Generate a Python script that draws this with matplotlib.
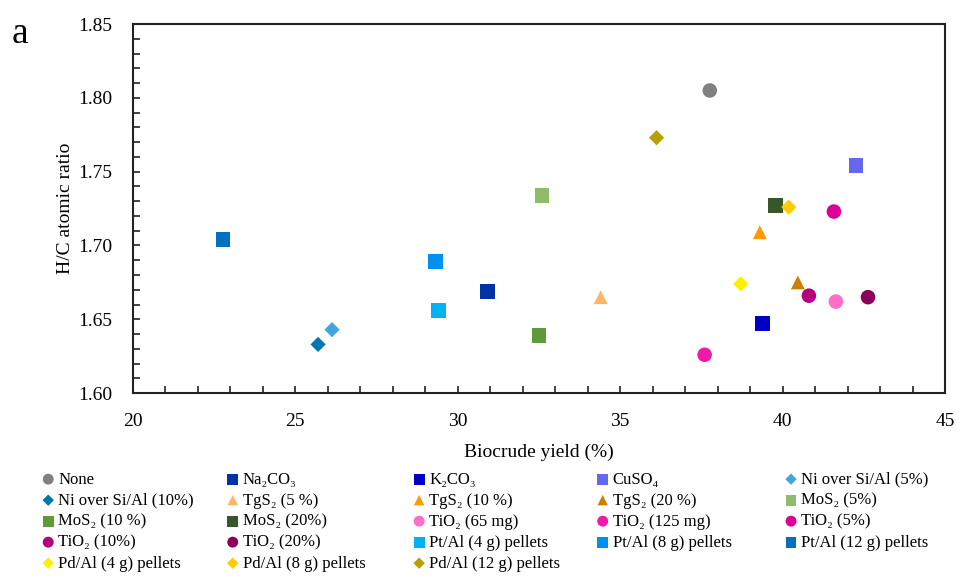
import matplotlib
matplotlib.use("Agg")
import matplotlib.pyplot as plt
from matplotlib.ticker import MultipleLocator

plt.rcParams['font.family'] = ['Liberation Serif', 'DejaVu Serif']

# catalisadores, rendimento (%) e razão H/C
nomes = ['None', 'Na₂CO₃', 'K₂CO₃', 'CuSO₄', 'Ni over Si/Al (5%)',
         'Ni over Si/Al (10%)', 'TgS₂ (5 %)', 'TgS₂ (10 %)', 'TgS₂ (20 %)', 'MoS₂ (5%)',
         'MoS₂ (10 %)', 'MoS₂ (20%)', 'TiO₂ (65 mg)', 'TiO₂ (125 mg)', 'TiO₂ (5%)',
         'TiO₂ (10%)', 'TiO₂ (20%)', 'Pt/Al (4 g) pellets', 'Pt/Al (8 g) pellets', 'Pt/Al (12 g) pellets',
         'Pd/Al (4 g) pellets', 'Pd/Al (8 g) pellets', 'Pd/Al (12 g) pellets']
rendimento = [37.76, 30.91, 39.39, 42.26, 26.13,
              25.70, 34.40, 39.30, 40.47, 32.60,
              32.50, 39.79, 41.64, 37.60, 41.58,
              40.81, 42.63, 29.40, 29.31, 22.77,
              38.71, 40.19, 36.12]
razao_hc = [1.805, 1.669, 1.647, 1.754, 1.643,
            1.633, 1.665, 1.709, 1.675, 1.734,
            1.639, 1.727, 1.662, 1.626, 1.723,
            1.666, 1.665, 1.656, 1.689, 1.704,
            1.674, 1.726, 1.773]
marcadores = ['o', 's', 's', 's', 'D',
              'D', '^', '^', '^', 's',
              's', 's', 'o', 'o', 'o',
              'o', 'o', 's', 's', 's',
              'D', 'D', 'D']
cores = ['#808080', '#0033A6', '#0000C4', '#6468EC', '#42A6D6',
         '#0077AE', '#FFB564', '#FF9A00', '#CC8000', '#8FBC6A',
         '#5E9A3A', '#37562A', '#FF6EC8', '#F01AA8', '#DC0096',
         '#B4007C', '#8A005A', '#00B2F2', '#0090EE', '#0070C2',
         '#FFF000', '#FFCC00', '#B8A000']

fig = plt.figure(figsize=(9.56, 5.79), dpi=100)
ax = fig.add_axes([0.139, 0.321, 0.8495, 0.6375])

tamanhos = {'o': 110, 's': 110, 'D': 60, '^': 100}
handles = []
for i in range(len(nomes)):
    h = ax.scatter(rendimento[i], razao_hc[i], s=tamanhos[marcadores[i]], marker=marcadores[i],
                   color=cores[i], edgecolors='none', label=nomes[i], zorder=3)
    handles.append(h)

ax.set_xlim(20, 45)
ax.set_ylim(1.60, 1.85)
ax.xaxis.set_major_locator(MultipleLocator(5))
ax.xaxis.set_minor_locator(MultipleLocator(1))
ax.yaxis.set_major_locator(MultipleLocator(0.05))
ax.yaxis.set_minor_locator(MultipleLocator(0.01))
ax.yaxis.set_major_formatter(plt.FormatStrFormatter('%.2f'))
ax.tick_params(which='both', direction='in', length=5, width=1.2, labelsize=14, color='#222222')
ax.tick_params(axis='x', pad=14)
ax.tick_params(axis='y', pad=15)
for sp in ax.spines.values():
    sp.set_linewidth(1.5)
    sp.set_color('#222222')

ax.set_xlabel('Biocrude yield (%)', fontsize=14, labelpad=10)
ax.set_ylabel('H/C atomic ratio', fontsize=14, labelpad=3)
fig.text(0.012, 0.925, 'a', fontsize=27)

# uma legenda por coluna, para as colunas ficarem igualmente espaçadas
ncol = 5
x_colunas = [0.033, 0.226, 0.421, 0.613, 0.810]
for c in range(ncol):
    idx = list(range(c, len(nomes), ncol))
    leg = fig.legend([handles[i] for i in idx], [nomes[i] for i in idx],
                     loc='upper left', bbox_to_anchor=(x_colunas[c], 0.2), frameon=False,
                     fontsize=12, handletextpad=0.1, labelspacing=0.3, borderpad=0,
                     handlelength=1.0, markerscale=0.75)

fig.savefig('out.png', dpi=100)
